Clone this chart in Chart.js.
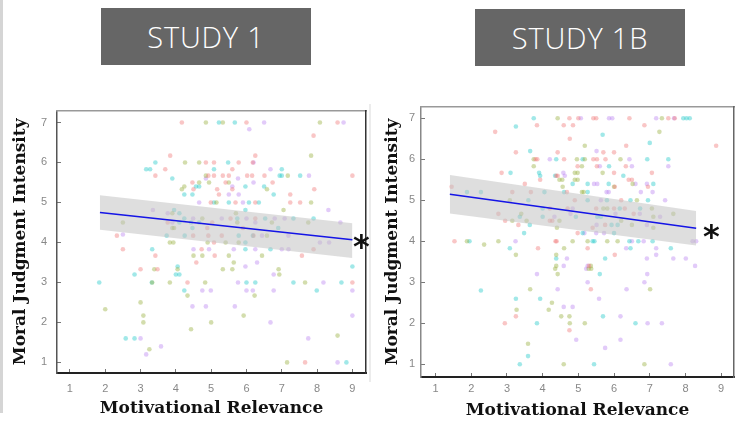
<!DOCTYPE html>
<html>
<head>
<meta charset="utf-8">
<script src="https://cdn.jsdelivr.net/npm/chart.js@4.4.1/dist/chart.umd.min.js"></script>
<style>
  html, body { margin: 0; padding: 0; background: #fff; }
  #page { position: relative; width: 738px; height: 421px; overflow: hidden; }
  .stripe { position: absolute; }
  .study { position: absolute; background: #666; color: #fff; font-family: "Open Sans", sans-serif;
           font-weight: 300; font-size: 29px; text-align: center; letter-spacing: 0.8px; }
  .star { position: absolute; font-family: "DejaVu Sans", sans-serif; font-weight: bold;
          font-size: 32px; line-height: 32px; color: #111; }
  canvas { position: absolute; }
</style>
</head>
<body>
<div id="page">
  <div class="stripe" style="left:0;top:0;width:3px;height:413px;background:#d5d5d5"></div>
  <div class="stripe" style="left:369px;top:104px;width:2px;height:278px;background:#ececec"></div>
  <div class="study" style="left:101px;top:8px;width:210px;height:57px;line-height:57px">STUDY 1</div>
  <div class="study" style="left:475px;top:9px;width:210px;height:57px;line-height:57px">STUDY 1B</div>
  <canvas id="chart1" width="370" height="331" style="left:0;top:90px"></canvas>
  <canvas id="chart2" width="368" height="331" style="left:370px;top:90px"></canvas>
  <div class="star" style="left:353px;top:230px">*</div>
  <div class="star" style="left:703px;top:220px">*</div>
</div>
<script>
const xTickValues = [1, 2, 3, 4, 5, 6, 7, 8, 9];
const yTickValues = [1, 2, 3, 4, 5, 6, 7];
const xTitle = 'Motivational Relevance';
const yTitle = 'Moral Judgment Intensity';

// study 1 points [motivational relevance, moral judgment]
const s1Pink = [[4.17,7],[6.0,7],[8.58,7],[7.9,6.67],[3.84,6.17],[6.25,6.17],[4.85,6],[5.08,6],[6.18,6],[5.78,6],
  [5.6,5.83],[3.7,5.83],[3.42,5.67],[4.92,5.67],[5.08,5.67],[5.33,5.67],[5.5,5.67],[6.02,5.67],[6.16,5.67],[6.51,5.67],
  [9.0,5.67],[4.47,5.5],[5.41,5.5],[6.74,5.5],[5.17,5.33],[5.6,5.33],[7.92,5.33],[4.5,5.33],[5.22,5.2],[7.24,5.2],
  [4.99,5],[5.69,5],[6.25,5],[7.24,5],[7.52,5],[6.25,4.6],[5.55,4.6],[3.77,4.5],[5.03,4.5],[4.89,4.36],[5.9,4.36],
  [2.33,4.17],[4.49,4.17],[4.92,4.17],[6.2,4.17],[5.3,4.17],[5.08,4],[2.5,3.83],[4.73,3.83],[7.9,3.83],[3.42,3.67],
  [5.1,3.67],[7.57,3.67],[4.58,3.5],[3.0,3.33],[3.48,3.33],[4.33,3],[9.0,3],[7.66,1]];
const s1Green = [[4.85,7],[5.33,7],[8.08,7],[7.83,6.17],[4.26,6],[4.66,6],[4.85,5.67],[7.17,5.67],[4.66,5.5],[4.94,5.5],
  [5.5,5.5],[4.24,5.4],[4.17,5.33],[6.58,5.33],[5.15,5],[7.83,5],[7.05,4.81],[3.9,4.73],[5.7,4.73],[4.75,4.6],
  [5.74,4.5],[6.72,4.5],[7.75,4.5],[2.5,4.5],[3.9,4.36],[3.95,4.36],[6.58,4.17],[3.83,4],[3.93,4],[4.9,4],[5.41,4],
  [5.78,4],[4.5,3.67],[4.75,3.67],[5.5,3.67],[6.44,3.67],[5.64,3.5],[3.39,3.33],[4.05,3.33],[5.33,3.33],[5.6,3.33],
  [6.91,3.33],[6.93,3.2],[3.33,3],[3.83,3],[4.83,3],[7.66,3],[4.33,2.67],[6.23,2.67],[3.0,2.5],[2.0,2.33],[3.08,2.17],
  [5.92,2.17],[3.08,2],[5.0,2],[4.43,1.83],[8.58,1.67],[3.25,1.33],[7.15,1]];
const s1Cyan = [[5.22,7],[5.67,7],[3.42,6],[5.48,6],[3.16,5.83],[3.27,5.83],[5.08,5.83],[7.0,5.83],[6.94,5.67],[7.0,5.67],
  [7.52,5.67],[3.9,5.6],[4.57,5.4],[4.66,5.4],[5.97,5.4],[6.5,5.4],[4.24,5.2],[4.47,5.2],[6.77,5.2],[5.08,5],[5.5,5],
  [6.07,5],[6.35,5],[3.95,4.81],[5.97,4.81],[4.1,4.73],[4.24,4.6],[5.74,4.6],[6.53,4.6],[7.33,4.6],[7.9,4.6],[4.1,4.5],
  [4.43,4.5],[4.66,4.5],[4.47,4.36],[6.9,4.36],[3.74,4.17],[4.25,4.17],[5.78,4.17],[6.18,4.17],[5.97,4],[3.33,3.83],
  [5.97,3.83],[6.68,3.83],[4.05,3.4],[9.0,3.4],[2.83,3.2],[4.0,3.2],[4.1,3.2],[1.83,3],[3.32,3],[6.0,3],[6.25,3],
  [7.33,3],[8.69,3],[4.24,2.8],[7.99,2.8],[2.58,1.6],[2.83,1.6],[8.83,1]];
const s1Violet = [[6.5,7],[8.75,7],[6.08,6.83],[6.2,6],[6.68,5.83],[7.77,5.67],[4.85,5.6],[5.76,5.6],[6.2,5.5],[5.6,5.4],
  [5.5,5.2],[5.78,5.2],[4.66,5],[5.9,5],[3.35,4.81],[8.32,4.81],[3.77,4.73],[4.49,4.6],[6.0,4.6],[6.8,4.6],[7.08,4.6],
  [5.3,4.6],[3.9,4.5],[6.25,4.5],[8.66,4.5],[2.5,4.2],[6.44,4.17],[7.19,4.17],[8.08,4],[8.34,4],[4.5,3.83],[4.94,3.83],
  [5.64,3.83],[6.25,3.83],[7.19,3.83],[7.0,3.83],[6.3,3.5],[5.97,3.4],[6.77,3.2],[5.76,3],[8.18,3],[4.75,2.8],[4.99,2.8],
  [6.0,2.8],[6.18,2.8],[6.77,2.8],[9.0,2.8],[4.47,2.4],[4.85,2.4],[5.67,2.4],[9.0,2.17],[6.68,2],[3.0,1.6],[7.75,1.6],
  [3.58,1.4],[3.16,1.2],[8.58,1]];
const s1FitX = [1.85, 9.0];
const s1FitY = [4.75, 4.07];
const s1BandLow = [4.32, 3.61];
const s1BandHigh = [5.18, 4.48];

// study 1b points
const s2Pink = [[4.75,7],[5.0,7],[5.42,7],[5.5,7],[6.43,7],[7.52,7],[7.7,7],[3.84,6.83],[4.59,6.83],[4.85,6.83],[6.85,6.83],
  [2.67,6.67],[4.76,6.5],[6.34,6.33],[8.86,6.33],[3.25,6.17],[4.42,6.17],[5.7,6.17],[6.0,6.17],[3.85,6],[3.8,6],[4.6,6],
  [5.42,6],[5.52,6],[5.76,6],[4.98,5.83],[5.52,5.83],[6.33,5.83],[2.85,5.67],[6.0,5.67],[7.06,5.67],[4.38,5.6],[4.42,5.6],
  [3.93,5.5],[6.41,5.5],[6.5,5.5],[3.5,5.4],[1.45,5.33],[6.02,5.33],[6.95,5.33],[3.15,5.2],[3.67,5.2],[4.68,5.2],[4.9,5],
  [6.2,5],[4.2,4.8],[4.7,4.8],[5.5,4.8],[6.0,4.8],[6.3,4.8],[2.76,4.67],[6.55,4.67],[2.95,4.5],[4.2,4.5],[4.27,4.5],
  [3.32,4.4],[5.75,4.4],[5.4,4.33],[4.98,4.2],[1.53,4],[4.36,4],[4.39,4],[3.87,3.83],[5.26,3.83],[6.02,3.67],[5.3,3.4],
  [5.35,2.83],[3.25,2.17],[2.94,2],[4.75,1.83]];
const s2Green = [[4.42,7],[7.34,7],[7.27,6.67],[5.18,6.33],[3.75,6],[4.96,6],[5.18,6],[6.18,6],[3.75,5.83],[5.1,5.83],
  [4.9,5.67],[4.98,5.67],[5.68,5.67],[4.47,5.5],[4.55,5.5],[4.98,5.5],[4.9,5.5],[6.52,5.4],[4.56,5.33],[6.0,5.33],
  [5.1,5.2],[5.15,5.2],[3.08,5],[6.64,5],[5.7,4.8],[5.81,4.8],[7.06,4.8],[3.4,4.67],[7.66,4.67],[7.1,4.6],[3.15,4.5],
  [4.47,4.5],[6.2,4.5],[3.55,4.5],[6.5,4.4],[4.4,4.33],[7.1,4.33],[1.88,4],[2.76,4],[4.84,4],[5.26,4],[5.81,4],[6.1,4],
  [2.36,3.92],[4.6,3.83],[3.25,3.67],[4.38,3.67],[4.38,3.4],[5.35,3.4],[4.35,3.33],[5.29,3.33],[5.36,3.33],[4.42,3.2],
  [3.65,2.83],[7.01,2.83],[4.26,2.5],[3.27,2.33],[4.17,2.33],[4.52,2.17],[4.75,2.17],[4.76,2],[5.18,2],[3.59,1.5],
  [4.59,1],[6.85,1]];
const s2Cyan = [[3.75,7],[7.94,7],[8.03,7],[8.12,7],[3.25,6.8],[5.68,6.6],[7.0,6.4],[3.65,6.2],[4.38,6],[5.12,6],[6.93,6],
  [7.52,6],[5.86,5.83],[3.1,5.67],[3.9,5.67],[3.93,5.6],[4.35,5.6],[6.26,5.6],[4.84,5.4],[5.26,5.4],[5.85,5.4],[7.1,5.4],
  [1.88,5.2],[2.27,5.2],[4.05,5.2],[4.6,5.2],[5.26,5.2],[3.6,5],[5.26,5],[5.8,5],[6.46,5],[6.95,5],[4.0,4.8],[6.16,4.8],
  [6.73,4.8],[3.36,4.6],[4.0,4.6],[4.93,4.6],[5.53,4.6],[5.63,4.6],[3.64,4.4],[5.93,4.4],[6.1,4.4],[3.48,4.2],[5.12,4.2],
  [6.0,4.2],[1.95,4],[5.4,4],[5.45,4],[6.43,4],[6.68,4],[7.08,4],[3.08,3.83],[6.46,3.83],[7.59,3.83],[4.38,3.58],
  [5.75,3.58],[5.6,3.2],[2.27,2.8],[3.25,2.6],[3.93,2.6],[5.69,2.17],[3.84,2],[6.6,2],[3.59,1.2],[3.36,1],[5.44,1]];
const s2Violet = [[5.07,7],[5.86,7],[5.95,7],[7.18,7],[7.68,7],[5.51,6.2],[4.2,6],[6.43,6],[5.6,5.83],[6.5,5.83],[7.52,5.83],
  [4.58,5.67],[4.62,5.6],[5.44,5.4],[5.53,5.4],[6.6,5.4],[6.92,5.4],[5.79,5.2],[5.85,5.2],[6.75,5.2],[7.08,5.2],[5.63,5],
  [7.43,5],[4.84,4.8],[4.78,4.67],[6.04,4.67],[6.72,4.67],[4.33,4.6],[7.29,4.6],[5.51,4.4],[6.92,4.4],[5.17,4.2],[5.5,4.2],
  [5.72,4.2],[3.24,4],[6.5,4],[6.83,4],[8.3,4],[8.2,4],[6.34,3.83],[7.18,3.83],[7.18,3.67],[4.68,3.58],[6.92,3.58],
  [7.66,3.58],[8.01,3.58],[4.59,3.4],[5.26,3.4],[8.27,3.4],[5.22,3.33],[3.84,3.2],[6.93,3.2],[5.26,3],[6.85,3],[4.42,2.83],
  [6.35,2.83],[5.58,2.6],[4.59,2.4],[4.84,2.4],[6.18,2.17],[6.94,2],[7.34,2],[4.94,1.6],[6.18,1.6],[5.75,1.4],[7.59,1]];
const s2FitX = [1.4, 8.3];
const s2FitY = [5.15, 4.32];
const s2BandLow = [4.68, 3.9];
const s2BandHigh = [5.62, 4.74];

const pink = 'rgba(240,120,120,0.42)';
const green = 'rgba(150,175,60,0.42)';
const cyan = 'rgba(30,200,200,0.42)';
const violet = 'rgba(185,130,240,0.42)';

function toPoints(arr) { return arr.map(p => ({x: p[0], y: p[1]})); }
function toLine(xs, ys) { return xs.map((x, i) => ({x: x, y: ys[i]})); }

function makeChart(id, groups, fit, box) {
  var datasets = [
    {type: 'line', data: toLine(fit.x, fit.y), borderColor: '#1414e6', borderWidth: 1.5, pointRadius: 0, fill: false, order: 0},
    {type: 'line', data: toLine(fit.x, fit.lo), borderColor: 'transparent', borderWidth: 0, pointRadius: 0, fill: false, order: 1},
    {type: 'line', data: toLine(fit.x, fit.hi), borderColor: 'transparent', borderWidth: 0, pointRadius: 0, fill: '-1',
     backgroundColor: 'rgba(195,195,195,0.55)', order: 1}
  ];
  groups.forEach(function (g) {
    datasets.push({data: toPoints(g[0]), backgroundColor: g[1], borderWidth: 0, pointRadius: 2.3, order: 2});
  });
  var tickFont = {family: 'Liberation Sans', size: 11};
  var titleFont = {family: 'DejaVu Serif', weight: 'bold', size: 17};
  return new Chart(document.getElementById(id), {
    type: 'scatter',
    data: {datasets: datasets},
    options: {
      responsive: false,
      animation: false,
      devicePixelRatio: 1,
      layout: {padding: {top: box.top, right: box.right, left: 0, bottom: 0}},
      plugins: {legend: {display: false}, tooltip: {enabled: false}},
      scales: {
        x: {
          type: 'linear', position: 'bottom', min: box.xMin, max: box.xMax,
          afterBuildTicks: function (s) { s.ticks = xTickValues.map(v => ({value: v})); },
          afterFit: function (s) { s.height = box.xAxis; },
          ticks: {color: '#888', font: tickFont, padding: box.xPad, maxRotation: 0},
          grid: {drawOnChartArea: false, tickLength: -4, color: '#777'},
          border: {color: '#222', width: 2},
          title: {display: true, text: xTitle, color: '#111', font: titleFont, padding: {top: 0, bottom: box.xtPad}}
        },
        y: {
          type: 'linear', position: 'left', min: box.yMin, max: box.yMax,
          afterBuildTicks: function (s) { s.ticks = yTickValues.map(v => ({value: v})); },
          afterFit: function (s) { s.width = box.yAxis; },
          ticks: {color: '#888', font: tickFont, padding: box.yPad},
          grid: {drawOnChartArea: false, tickLength: -4, color: '#777'},
          border: {color: box.leftColor, width: 1.5},
          title: {display: true, text: yTitle, color: '#111', font: titleFont, padding: {top: box.ytPad, bottom: 0}}
        },
        x2: {
          type: 'linear', position: 'top',
          afterFit: function (s) { s.height = 0; },
          ticks: {display: false}, grid: {display: false},
          border: {color: '#999', width: 1.5}
        },
        y2: {
          type: 'linear', position: 'right',
          afterFit: function (s) { s.width = 0; },
          ticks: {display: false}, grid: {display: false},
          border: {color: box.rightColor, width: 1.5}
        }
      }
    }
  });
}

makeChart('chart1', [[s1Pink, pink], [s1Green, green], [s1Cyan, cyan], [s1Violet, violet]],
  {x: s1FitX, y: s1FitY, lo: s1BandLow, hi: s1BandHigh},
  {top: 18, right: 2, xAxis: 48, yAxis: 57, xMin: 0.634, xMax: 9.385, yMin: 0.735, yMax: 7.297,
   xPad: 13, yPad: 14, xtPad: 2, ytPad: 10, leftColor: '#555', rightColor: '#333'});

makeChart('chart2', [[s2Pink, pink], [s2Green, green], [s2Cyan, cyan], [s2Violet, violet]],
  {x: s2FitX, y: s2FitY, lo: s2BandLow, hi: s2BandHigh},
  {top: 17, right: 1, xAxis: 44, yAxis: 51, xMin: 0.592, xMax: 9.36, yMin: 0.69, yMax: 7.276,
   xPad: 9, yPad: 10, xtPad: 0, ytPad: 12, leftColor: '#888', rightColor: '#666'});
</script>
</body>
</html>
